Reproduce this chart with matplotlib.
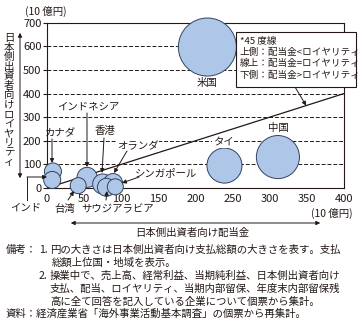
import numpy as np
import matplotlib
matplotlib.use('Agg')
import matplotlib.pyplot as plt
from matplotlib.patches import Rectangle, FancyArrowPatch

plt.rcParams['font.family'] = ['Noto Sans CJK JP', 'DejaVu Sans']
plt.rcParams['axes.unicode_minus'] = False

# data (10億円)
countries = ['米国', '中国', 'タイ', 'カナダ', 'インド', 'インドネシア', '台湾',
             '香港', 'オランダ', 'サウジアラビア', 'シンガポール']
dividend = [216, 311, 239, 8, 7, 54, 42, 75, 89, 80, 92]
royalty = [597, 131, 95, 70, 34, 45, 10, 17, 21, 3, 5]
# 支払総額 (relative, drives circle area)
pay_total = [1680, 925, 612, 145, 145, 200, 128, 200, 180, 162, 128]

x_ticks = [0, 50, 100, 150, 200, 250, 300, 350, 400]
y_ticks = [0, 100, 200, 300, 400, 500, 600, 700]
legend_lines = ['*45 度線', '上側：配当金<ロイヤリティ', '線上：配当金=ロイヤリティ', '下側：配当金>ロイヤリティ']

W, H = 363, 325
TXT = '#231815'
fig = plt.figure(figsize=(W / 100, H / 100), dpi=100)
ax = fig.add_axes([47 / W, 1 - 188 / H, 297 / W, 165.3 / H])
ax.set_xlim(0, 400)
ax.set_ylim(0, 700)

for yv in y_ticks[1:-1]:
	ax.axhline(yv, color=TXT, lw=0.7, ls=(0, (4, 2)), zorder=1)

# 45 degree line
ax.plot([0, 400], [0, 400], color=TXT, lw=0.9, zorder=2)

s = np.array(pay_total) * 1.04
ax.scatter(dividend, royalty, s=s, c='#aec7e8', edgecolors='#33425e', linewidths=0.7,
		   zorder=3, clip_on=False)

for sp in ax.spines.values():
	sp.set_color(TXT)
	sp.set_linewidth(0.8)

ax.set_xticks(x_ticks)
ax.set_yticks(y_ticks)
ax.tick_params(axis='x', length=0, pad=4, labelsize=8, colors=TXT)
ax.tick_params(axis='y', length=3, pad=1, labelsize=8, colors=TXT)

def px(x, y):
	# figure pixel (top-left origin) -> data coords
	return ((x - 47) / 0.7425, (188 - y) / 0.2361)

def label(name, xy, size=7.5, bg=False):
	kw = dict(ha='center', va='center', fontsize=size, color=TXT, zorder=5, annotation_clip=False)
	if bg:
		kw['bbox'] = dict(facecolor='white', edgecolor='none', pad=0.5)
	ax.annotate(name, px(*xy), **kw)

def arrow(p0, p1):
	ax.annotate('', xy=px(*p1), xytext=px(*p0), annotation_clip=False,
				arrowprops=dict(arrowstyle='-|>', color=TXT, lw=0.7, mutation_scale=6,
								shrinkA=0, shrinkB=0), zorder=6)

label('米国', (207, 83))
label('中国', (278, 128), bg=True)
label('タイ', (223, 142), bg=True)
label('カナダ', (60, 133))
arrow((52, 139), (52, 163))
label('インドネシア', (88, 107))
arrow((87, 113), (87, 167))
label('香港', (105, 131))
arrow((104, 138), (102, 173))
label('オランダ', (138, 146), bg=True)
arrow((127, 151), (114, 173))
label('シンガポール', (166, 173))
arrow((139, 177), (122, 183))
label('インド', (26, 208))
ax.plot(*zip(px(27, 200), px(27, 177)), color=TXT, lw=0.7, clip_on=False)
arrow((27, 177), (47, 177))
label('台湾', (65, 209))
arrow((68, 200), (74, 191))
label('サウジアラビア', (118, 209))
arrow((106, 200), (107, 191))

# 45 degree note box
fig.patches.append(Rectangle((236 / W, 1 - 87 / H), 120 / W, 55 / H, transform=fig.transFigure,
							 facecolor='white', edgecolor=TXT, lw=0.8, zorder=10))
for i, t in enumerate(legend_lines):
	fig.text(240 / W, 1 - (41 + i * 11.4) / H, t, fontsize=6.9, color=TXT, va='center', ha='left', zorder=11)
ax.annotate('', xy=(349, 349), xytext=px(295, 87), annotation_clip=False,
			arrowprops=dict(arrowstyle='-|>', color=TXT, lw=0.7, mutation_scale=6,
							shrinkA=0, shrinkB=0), zorder=6)

# units
fig.text(25 / W, 1 - 11 / H, '(10 億円)', fontsize=7.5, color=TXT, va='center', ha='left')
fig.text(353 / W, 1 - 213 / H, '(10 億円)', fontsize=7.5, color=TXT, va='center', ha='right')

# y axis title, vertical writing
ytitle = '日本側出資者向けロイヤリティ'
for i, ch in enumerate(ytitle):
	fig.text(9 / W, 1 - (38 + i * 9.55) / H, ch, fontsize=7.5, color=TXT, ha='center', va='center')
fig.patches.append(FancyArrowPatch(
	(20 / W, 1 - 181 / H), (20 / W, 1 - 30 / H), transform=fig.transFigure,
	arrowstyle='<|-|>', mutation_scale=6, color=TXT, lw=0.7))

# x axis title
fig.patches.append(FancyArrowPatch(
	(68 / W, 1 - 223 / H), (323 / W, 1 - 223 / H), transform=fig.transFigure,
	arrowstyle='<|-|>', mutation_scale=6, color=TXT, lw=0.7))
fig.text(192 / W, 1 - 233 / H, '日本側出資者向け配当金', fontsize=7.5, color=TXT, ha='center', va='center')

# notes
rows = [
	(250, [(6, '備考：'), (39, '1.'), (50, '円の大きさは日本側出資者向け支払総額の大きさを表す。支払')]),
	(263, [(52, '総額上位国・地域を表示。')]),
	(276, [(39, '2.'), (50, '操業中で、売上高、経常利益、当期純利益、日本側出資者向け')]),
	(289, [(50, '支払、配当、ロイヤリティ、当期内部留保、年度末内部留保残')]),
	(302, [(50, '高に全て回答を記入している企業について個票から集計。')]),
	(314, [(6, '資料：経済産業省「海外事業活動基本調査」の個票から再集計。')]),
]
for yy, parts in rows:
	for xx, t in parts:
		fig.text(xx / W, 1 - yy / H, t, fontsize=7.5, color=TXT, ha='left', va='center')

fig.savefig('out.png', dpi=100)
